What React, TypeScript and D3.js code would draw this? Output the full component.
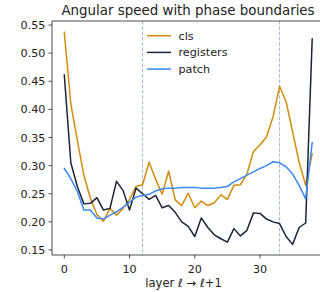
import React from "react";
import * as d3 from "d3";

const layers = d3.range(0, 39);
const clsValues = [0.537, 0.41, 0.345, 0.283, 0.242, 0.213, 0.201, 0.224, 0.212, 0.224, 0.240, 0.263, 0.266, 0.306, 0.276, 0.249, 0.290, 0.239, 0.229, 0.251, 0.225, 0.237, 0.229, 0.234, 0.248, 0.240, 0.265, 0.266, 0.285, 0.325, 0.337, 0.351, 0.387, 0.441, 0.414, 0.36, 0.306, 0.265, 0.321];
const registersValues = [0.461, 0.305, 0.263, 0.232, 0.233, 0.243, 0.221, 0.224, 0.272, 0.256, 0.221, 0.260, 0.250, 0.240, 0.247, 0.225, 0.229, 0.217, 0.200, 0.192, 0.174, 0.207, 0.190, 0.177, 0.170, 0.164, 0.188, 0.175, 0.185, 0.216, 0.215, 0.205, 0.200, 0.197, 0.174, 0.160, 0.190, 0.198, 0.525];
const patchValues = [0.295, 0.277, 0.254, 0.221, 0.221, 0.207, 0.205, 0.212, 0.218, 0.226, 0.235, 0.244, 0.247, 0.249, 0.255, 0.259, 0.260, 0.260, 0.261, 0.261, 0.261, 0.260, 0.260, 0.260, 0.261, 0.263, 0.271, 0.277, 0.283, 0.289, 0.295, 0.300, 0.307, 0.305, 0.298, 0.285, 0.265, 0.241, 0.341];
const seriesNames = ["cls", "registers", "patch"];
const seriesColors = ["#d38c0b", "#1b2335", "#3a88fb"];
const phaseBoundaries = [12, 33];
const xTicks = [0, 10, 20, 30];
const yTicks = [0.15, 0.2, 0.25, 0.3, 0.35, 0.4, 0.45, 0.5, 0.55];
const title = "Angular speed with phase boundaries";
const xLabel = "layer ℓ → ℓ+1";

const W = 320;
const H = 292;
const left = 52;
const right = 323.7;
const top = 21;
const bottom = 255;

export default function App() {
  const x = d3.scaleLinear().domain([0, 30]).range([64.3, 260]);
  const y = d3.scaleLinear().domain([0.15, 0.55]).range([250, 25]);
  const all = [clsValues, registersValues, patchValues];
  const line = d3
    .line<number>()
    .x((_, i) => x(layers[i]))
    .y((d) => y(d));
  const font = "DejaVu Sans, sans-serif";
  return (
    <svg
      width={W}
      height={H}
      style={{ position: "absolute", left: 0, top: 0, background: "#fff" }}
      fontFamily={font}
    >
      <rect x={0} y={0} width={W} height={H} fill="#fff" />
      <text x={188} y={15.3} textAnchor="middle" fontSize={13.4} fill="#222">
        {title}
      </text>
      {phaseBoundaries.map((b) => (
        <line
          key={b}
          x1={x(b)}
          x2={x(b)}
          y1={top}
          y2={bottom}
          stroke="#8fa2bf"
          strokeOpacity={0.75}
          strokeWidth={1}
          strokeDasharray="3.7,1.6"
        />
      ))}
      <g clipPath="url(#clip)">
        <defs>
          <clipPath id="clip">
            <rect x={left} y={top} width={right - left} height={bottom - top} />
          </clipPath>
        </defs>
        {all.map((vals, k) => (
          <path
            key={k}
            d={line(vals) || ""}
            fill="none"
            stroke={seriesColors[k]}
            strokeWidth={1.5}
            strokeLinejoin="round"
            strokeLinecap="square"
          />
        ))}
      </g>
      {/* spines */}
      <line x1={left} x2={left} y1={top} y2={bottom} stroke="#222" strokeWidth={0.8} />
      <line x1={left} x2={right} y1={bottom} y2={bottom} stroke="#222" strokeWidth={0.8} />
      <line x1={left} x2={right} y1={top} y2={top} stroke="#222" strokeWidth={0.8} />
      {/* y ticks */}
      {yTicks.map((t) => (
        <g key={t}>
          <line x1={left - 3.5} x2={left} y1={y(t)} y2={y(t)} stroke="#222" strokeWidth={0.8} />
          <text x={45.5} y={y(t) + 4} textAnchor="end" fontSize={11.2} fill="#222">
            {t.toFixed(2)}
          </text>
        </g>
      ))}
      {/* x ticks */}
      {xTicks.map((t) => (
        <g key={t}>
          <line x1={x(t)} x2={x(t)} y1={bottom} y2={bottom + 3.5} stroke="#222" strokeWidth={0.8} />
          <text x={x(t)} y={bottom + 17.5} textAnchor="middle" fontSize={11.2} fill="#222">
            {t}
          </text>
        </g>
      ))}
      <text x={183.5} y={287} textAnchor="middle" fontSize={11.6} fill="#222">
        {xLabel}
      </text>
      {/* legend */}
      {seriesNames.map((n, k) => (
        <g key={n}>
          <line
            x1={147}
            x2={171}
            y1={35.7 + k * 16.7}
            y2={35.7 + k * 16.7}
            stroke={seriesColors[k]}
            strokeWidth={1.5}
          />
          <text x={178.5} y={35.7 + k * 16.7 + 4} fontSize={11.2} fill="#222">
            {n}
          </text>
        </g>
      ))}
    </svg>
  );
}
